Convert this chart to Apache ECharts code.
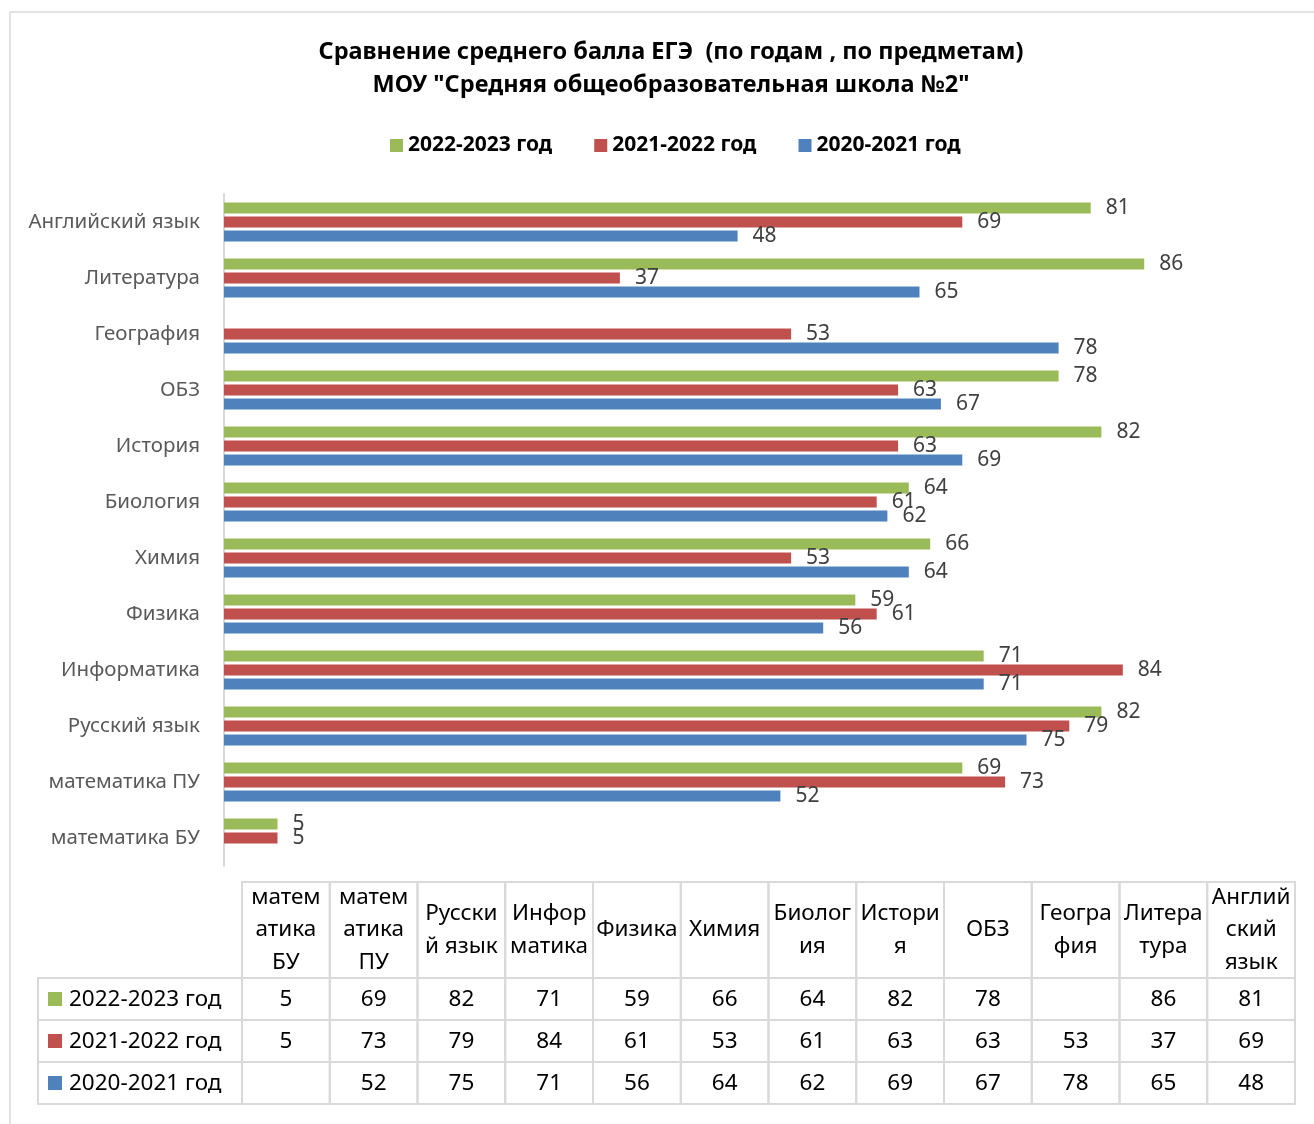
<!DOCTYPE html>
<html lang="ru" style="height: 100%">
<head>
  <meta charset="utf-8">
  <title>Сравнение среднего балла ЕГЭ</title>
  <script type="text/javascript" src="https://fastly.jsdelivr.net/npm/echarts@6/dist/echarts.min.js"></script>
</head>
<body style="height: 100%; margin: 0; background: #fff">
  <div id="chart" style="width: 1314px; height: 1124px"></div>

  <script type="text/javascript">
    var dom = document.getElementById('chart');
    var myChart = echarts.init(dom);

    // предметы снизу вверх (как в таблице слева направо)
    let subjects = ['математика БУ', 'математика ПУ', 'Русский язык', 'Информатика', 'Физика', 'Химия',
      'Биология', 'История', 'ОБЗ', 'География', 'Литература', 'Английский язык'];
    let tableHeaders = ['матем\nатика\nБУ', 'матем\nатика\nПУ', 'Русски\nй язык', 'Инфор\nматика', 'Физика', 'Химия',
      'Биолог\nия', 'Истори\nя', 'ОБЗ', 'Геогра\nфия', 'Литера\nтура', 'Англий\nский\nязык'];
    let years = ['2022-2023 год', '2021-2022 год', '2020-2021 год'];
    let y2023 = [5, 69, 82, 71, 59, 66, 64, 82, 78, null, 86, 81];
    let y2022 = [5, 73, 79, 84, 61, 53, 61, 63, 63, 53, 37, 69];
    let y2021 = [null, 52, 75, 71, 56, 64, 62, 69, 67, 78, 65, 48];
    let colors = ['#9bbb59', '#c0504d', '#4f81bd'];

    const font = 'Noto Sans';
    const gridLeft = 224, gridTop = 194, gridRight = 20, gridH = 672;

    // таблица под графиком
    const tblX0 = 38, tblX1 = 242, colW = 87.75, headTop = 882, headH = 96, rowH = 42;
    const border = '#d9d9d9';
    const cellFont = '22.5px "' + font + '"';
    let rows = [y2023, y2022, y2021];
    let graphics = [];

    graphics.push({
      type: 'rect', shape: { x: 10, y: 12, width: 1320, height: 1130 },
      style: { fill: 'none', stroke: border, lineWidth: 1.5 }, z: 0
    });

    tableHeaders.forEach((h, i) => {
      let x = tblX1 + i * colW;
      graphics.push({
        type: 'rect', shape: { x: x, y: headTop, width: colW, height: headH },
        style: { fill: 'none', stroke: border, lineWidth: 2 }
      });
      graphics.push({
        type: 'text', x: x + colW / 2, y: headTop + headH / 2,
        style: { text: h, font: cellFont, fill: '#000', align: 'center', verticalAlign: 'middle', lineHeight: 32.5 }
      });
    });

    rows.forEach((vals, r) => {
      let y = headTop + headH + r * rowH;
      graphics.push({
        type: 'rect', shape: { x: tblX0, y: y, width: tblX1 - tblX0, height: rowH },
        style: { fill: 'none', stroke: border, lineWidth: 2 }
      });
      graphics.push({
        type: 'rect', shape: { x: 48, y: y + rowH / 2 - 7, width: 14, height: 14 },
        style: { fill: colors[r] }
      });
      graphics.push({
        type: 'text', x: 69, y: y + rowH / 2 + 1,
        style: { text: years[r], font: cellFont, fill: '#000', align: 'left', verticalAlign: 'middle' }
      });
      vals.forEach((v, i) => {
        let x = tblX1 + i * colW;
        graphics.push({
          type: 'rect', shape: { x: x, y: y, width: colW, height: rowH },
          style: { fill: 'none', stroke: border, lineWidth: 2 }
        });
        if (v != null) {
          graphics.push({
            type: 'text', x: x + colW / 2, y: y + rowH / 2 + 1,
            style: { text: String(v), font: cellFont, fill: '#000', align: 'center', verticalAlign: 'middle' }
          });
        }
      });
    });

    let barLabel = {
      show: true, position: 'right', distance: 15,
      color: '#404040', fontSize: 21, fontFamily: font
    };

    let option = {
      animation: false,
      textStyle: { fontFamily: font },
      title: {
        text: 'Сравнение среднего балла ЕГЭ  (по годам , по предметам)\nМОУ "Средняя общеобразовательная школа №2"',
        left: 666, top: 31, textAlign: 'center',
        textStyle: { fontSize: 23.5, fontWeight: 'bold', color: '#000', lineHeight: 33, fontFamily: font }
      },
      legend: {
        data: years,
        top: 130, left: 385,
        itemWidth: 13, itemHeight: 13, itemGap: 42,
        icon: 'rect',
        textStyle: { fontSize: 21, fontWeight: 'bold', color: '#000', fontFamily: font }
      },
      grid: { left: gridLeft, top: gridTop, right: gridRight, height: gridH, containLabel: false },
      xAxis: {
        type: 'value', min: 0, max: 100, show: false
      },
      yAxis: {
        type: 'category',
        data: subjects,
        axisLine: { lineStyle: { color: border, width: 2 } },
        axisTick: { show: false },
        axisLabel: { margin: 24, color: '#595959', fontSize: 20.5, fontFamily: font },
        splitLine: { show: false }
      },
      series: [
        { name: years[0], type: 'bar', data: y2023, barWidth: 11, barGap: '27%', itemStyle: { color: colors[0] }, label: barLabel },
        { name: years[1], type: 'bar', data: y2022, barWidth: 11, barGap: '27%', itemStyle: { color: colors[1] }, label: barLabel },
        { name: years[2], type: 'bar', data: y2021, barWidth: 11, barGap: '27%', itemStyle: { color: colors[2] }, label: barLabel }
      ],
      graphic: graphics
    };

    myChart.setOption(option);
  </script>
</body>
</html>
